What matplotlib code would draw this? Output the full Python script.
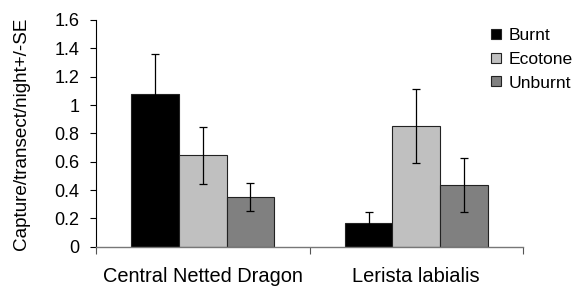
import matplotlib
matplotlib.use("Agg")
import matplotlib.pyplot as plt
import numpy as np

plt.rcParams['font.family'] = ['Liberation Sans', 'DejaVu Sans']

categories = ["Central Netted Dragon", "Lerista labialis"]
series = ["Burnt", "Ecotone", "Unburnt"]
values = {
    "Burnt": [1.08, 0.165],
    "Ecotone": [0.645, 0.854],
    "Unburnt": [0.353, 0.435],
}
errors = {
    "Burnt": [0.28, 0.08],
    "Ecotone": [0.20, 0.26],
    "Unburnt": [0.10, 0.19],
}
colors = {"Burnt": "#000000", "Ecotone": "#c0c0c0", "Unburnt": "#808080"}
yticks = [0, 0.2, 0.4, 0.6, 0.8, 1, 1.2, 1.4, 1.6]
yticklabels = ["0", "0.2", "0.4", "0.6", "0.8", "1", "1.2", "1.4", "1.6"]

fig = plt.figure(figsize=(5.73, 2.89), dpi=100)
ax = fig.add_axes([96/573, 42.3/289, 427/573, 226.7/289])

x = np.arange(len(categories))
w = 0.2225
for i, s in enumerate(series):
    ax.bar(x + (i - 1) * w, values[s], width=w, color=colors[s],
           edgecolor="#222222", linewidth=0.8, label=s, zorder=2,
           yerr=errors[s], error_kw=dict(ecolor="#000000", elinewidth=0.9,
                                          capsize=3, capthick=0.9, zorder=3))

ax.set_xlim(-0.5, 1.5)
ax.set_ylim(0, 1.6)
ax.set_yticks(yticks)
ax.set_yticklabels(yticklabels, fontsize=13)
ax.tick_params(axis='y', direction='out', length=4, width=0.8, pad=8, color='black')

ax.set_xticks([-0.5, 0.5, 1.5])
ax.set_xticklabels(["", "", ""])
ax.set_xticks(x, minor=True)
ax.set_xticklabels(categories, minor=True, fontsize=14.4)
ax.tick_params(axis='x', which='major', direction='out', length=5, width=0.8, color='#555555')
ax.tick_params(axis='x', which='minor', length=0, pad=14.5)

for sp in ['top', 'right']:
    ax.spines[sp].set_visible(False)
ax.spines['left'].set_color('black')
ax.spines['left'].set_linewidth(0.8)
ax.spines['bottom'].set_color('#777777')
ax.spines['bottom'].set_linewidth(1.0)

ax.set_ylabel("Capture/transect/night+/-SE", fontsize=13.6)
ax.yaxis.set_label_coords(-0.155, 0.5)

leg = fig.legend(loc='upper left', bbox_to_anchor=(491/573, 1 - 28/289),
                 frameon=False, fontsize=12.6, handlelength=0.55, handleheight=0.5,
                 handletextpad=0.45, labelspacing=0.5, borderaxespad=0, borderpad=0)

fig.savefig("out.png", dpi=100)
